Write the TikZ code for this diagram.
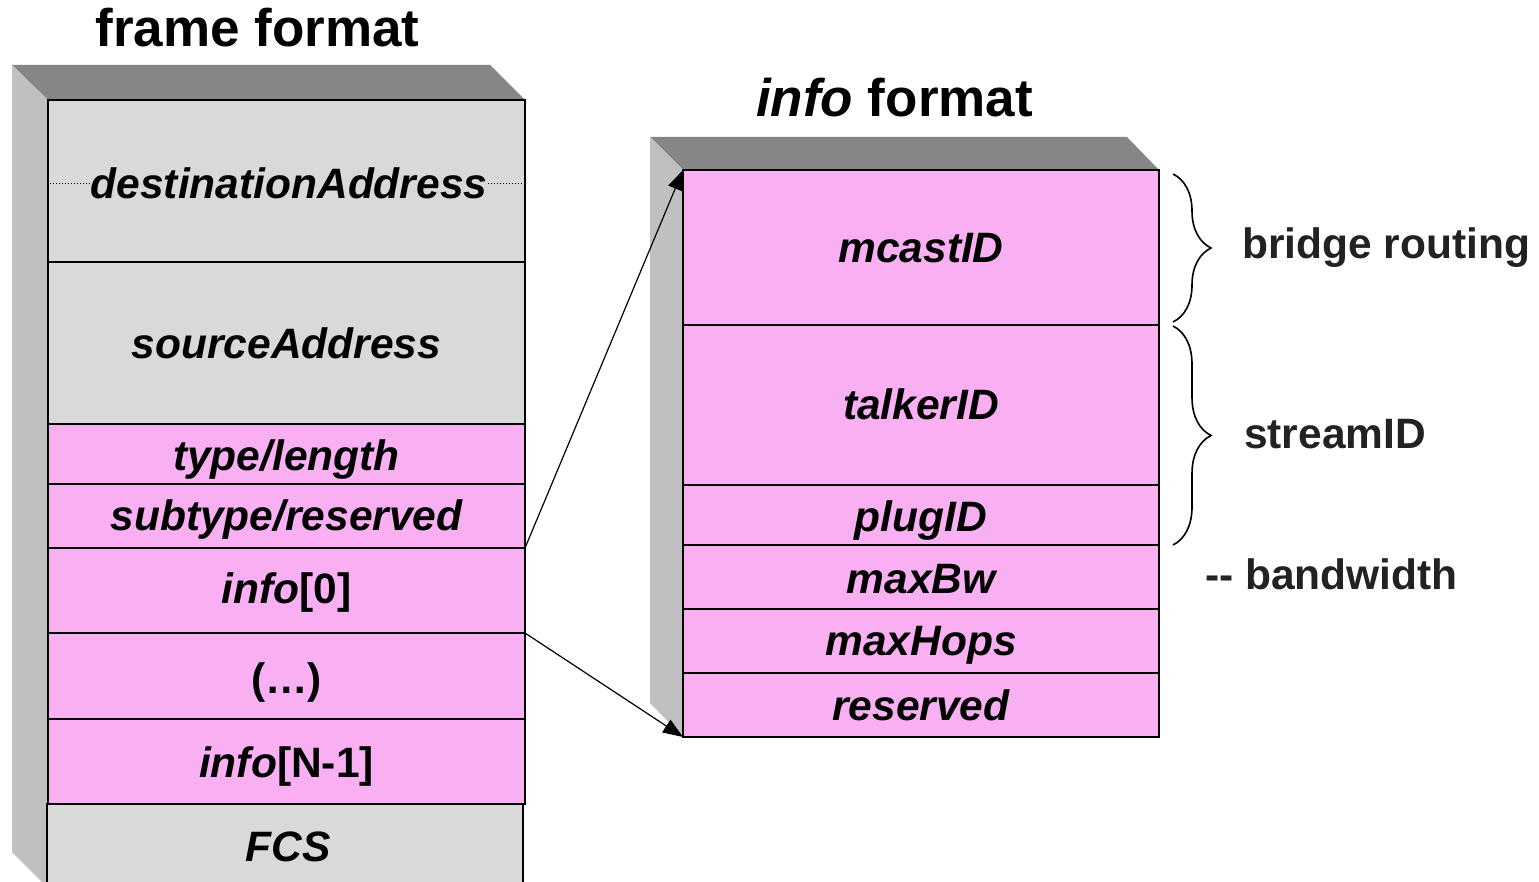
\documentclass[tikz,border=0pt]{standalone}
\usepackage{fontspec}
\setmainfont{Liberation Sans}
\usetikzlibrary{arrows.meta,decorations.pathreplacing}
\definecolor{pinkfill}{RGB}{248,176,242}
\definecolor{grayfill}{RGB}{217,217,217}
\definecolor{bevtop}{RGB}{134,134,134}
\definecolor{bevside}{RGB}{192,192,192}
\definecolor{txtgray}{RGB}{34,34,34}
\begin{document}
\begin{tikzpicture}[x=1pt,y=-1pt,
  row/.style={draw=black, line width=1.5pt, anchor=north west, inner sep=0pt, outer sep=0pt},
  lrow/.style={row, minimum width=477pt},
  rrow/.style={row, minimum width=476pt},
  pinkrow/.style={fill=pinkfill},
  grayrow/.style={fill=grayfill},
  fld/.style={font=\fontsize{42.5}{50}\selectfont\bfseries\itshape, anchor=base, inner sep=0pt},
  side/.style={font=\fontsize{42.5}{50}\selectfont\bfseries, text=txtgray, anchor=base west, inner sep=0pt},
  ttl/.style={font=\fontsize{53}{60}\selectfont\bfseries, text=black, anchor=base, inner sep=0pt},
  conn/.style={line width=1.2pt, -{Triangle[length=20pt,width=15pt]}},
  bracestyle/.style={line width=1.6pt, decorate, decoration={brace, amplitude=38pt}}
]
\useasboundingbox (0,0) rectangle (1539,882);

% titles
\node[ttl] (ftitle) at (257.5,47) {frame format};
\node[ttl] (ititle) at (894.5,117) {\itshape info\upshape{} format};

% left 3D bevel
\fill[bevtop] (12,65) -- (490,65) -- (525,100) -- (48,100) -- cycle;
\fill[bevside] (12,65) -- (48,100) -- (48,888) -- (12,852) -- cycle;

% left rows
\node[lrow, grayrow, minimum height=162pt] (dest) at (48,100) {};
\node[lrow, grayrow, minimum height=162pt] (src) at (48,262) {};
\node[lrow, pinkrow, minimum height=60pt] (type) at (48,424) {};
\node[lrow, pinkrow, minimum height=64pt] (subt) at (48,484) {};
\node[lrow, pinkrow, minimum height=85pt] (info0) at (48,548) {};
\node[lrow, pinkrow, minimum height=86pt] (dots) at (48,633) {};
\node[lrow, pinkrow, minimum height=85pt] (infoN) at (48,719) {};
\node[lrow, grayrow, minimum width=476pt, minimum height=84pt] (fcs) at (47,804) {};

\node[fld] (ldest) at (289,199) {destinationAddress};
\coordinate (dl) at (50,184);
\coordinate (dr) at (523,184);
\draw[dotted, line width=1pt] (dl) -- (dl -| ldest.west);
\draw[dotted, line width=1pt] (dr -| ldest.east) -- (dr);
\node[fld] (lsrc) at ([yshift=-16pt]src.center) {sourceAddress};
\node[fld] (ltype) at ([yshift=-16pt]type.center) {type/length};
\node[fld] (lsubt) at ([yshift=-14pt]subt.center) {subtype/reserved};
\node[fld] (linfo0) at ([yshift=-13pt]info0.center) {info\upshape[0]};
\node[fld] (ldots) at ([yshift=-17pt]dots.center) {\upshape(…)};
\node[fld] (linfoN) at ([yshift=-16pt]infoN.center) {info\upshape[N-1]};
\node[fld] (lfcs) at (288,861) {FCS};

% right 3D bevel
\fill[bevtop] (650,137) -- (1127,137) -- (1159,170) -- (683,170) -- cycle;
\fill[bevside] (650,137) -- (683,170) -- (683,737) -- (650,703) -- cycle;

% right rows
\node[rrow, pinkrow, minimum height=155pt] (mcast) at (683,170) {};
\node[rrow, pinkrow, minimum height=160pt] (talker) at (683,325) {};
\node[rrow, pinkrow, minimum height=60pt] (plug) at (683,485) {};
\node[rrow, pinkrow, minimum height=64pt] (maxbw) at (683,545) {};
\node[rrow, pinkrow, minimum height=64pt] (maxhops) at (683,609) {};
\node[rrow, pinkrow, minimum height=64pt] (resv) at (683,673) {};

\node[fld] (lmcast) at ([yshift=-15pt]mcast.center) {mcastID};
\node[fld] (ltalker) at ([yshift=-14pt]talker.center) {talkerID};
\node[fld] (lplug) at ([yshift=-16pt]plug.center) {plugID};
\node[fld] (lmaxbw) at ([yshift=-16pt]maxbw.center) {maxBw};
\node[fld] (lmaxhops) at ([yshift=-14pt]maxhops.center) {maxHops};
\node[fld] (lresv) at ([yshift=-15pt]resv.center) {reserved};

% connectors
\draw[conn] (info0.north east) -- (mcast.north west);
\draw[conn] (dots.north east) -- (resv.south west);

% braces
\coordinate (b1s) at (1173,174);
\coordinate (b1e) at (1173,322);
\coordinate (b2s) at (1173,326);
\coordinate (b2e) at (1173,545);
\draw[bracestyle] (b1s) -- (b1e);
\draw[bracestyle] (b2s) -- (b2e);

% side labels
\node[side] (br) at (1242,259) {bridge routing};
\node[side] (sid) at (1244,448) {streamID};
\node[side] (bw) at (1205,589) {-{}- bandwidth};
\end{tikzpicture}
\end{document}
